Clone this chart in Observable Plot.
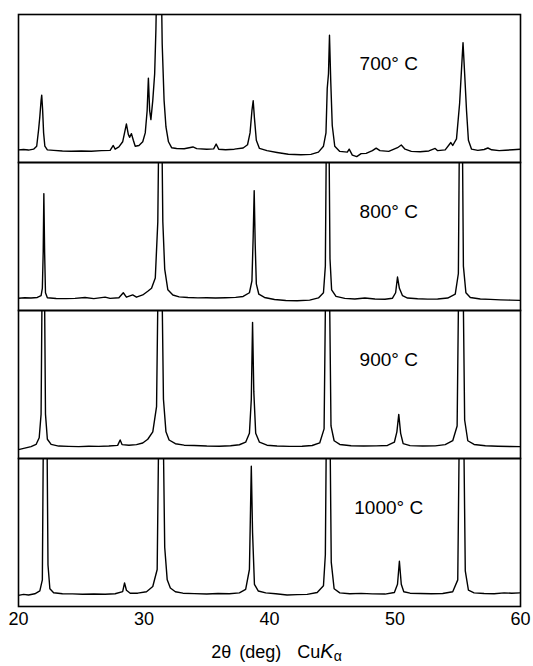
<!DOCTYPE html>
<html>
<head>
<meta charset="utf-8">
<script src="https://cdn.jsdelivr.net/npm/d3@7"></script>
<script src="https://cdn.jsdelivr.net/npm/@observablehq/plot@0.6"></script>
<style>
  html, body { margin: 0; padding: 0; background: #fff; }
  #chart { width: 533px; height: 638px; overflow: hidden; }
  #chart svg { display: block; }
  #xlabel { width: 533px; box-sizing: border-box; padding-left: 20px; text-align: center;
    font-family: "Liberation Sans", Arial, sans-serif; font-size: 18px; line-height: 22px; color: #000;
    margin-top: 2px; word-spacing: 3px; }
  #xlabel i { font-size: 20px; }
  #xlabel sub { font-size: 14px; vertical-align: -3px; line-height: 0; }
</style>
</head>
<body>
<div id="chart"></div>
<div id="xlabel">2θ (deg)&nbsp;&nbsp;Cu<i>K</i><sub>α</sub></div>
<script>
// Panel labels (top to bottom)
const temps = ["700", "800", "900", "1000"];
const tempLabels = ["700° C", "800° C", "900° C", "1000° C"];
// x ticks
const xTicks = [20, 30, 40, 50, 60];

// Read-off traces: [2θ (deg), intensity as % of panel height]; values > 100 run off the panel top
const trace700 = [
  [20.0, 8.5], [20.4, 8.8], [20.8, 8.4], [21.2, 9.0], [21.45, 11], [21.6, 22], [21.7, 31], [21.8, 42], [21.85, 45.5],
  [21.92, 36], [22.0, 20], [22.1, 11], [22.3, 8.5], [22.8, 8.2], [23.5, 7.8], [24.2, 7.6], [25.0, 7.8], [25.8, 7.6],
  [26.6, 8.0], [27.3, 8.2], [27.55, 11.5], [27.7, 9], [28.0, 10.5], [28.3, 14], [28.5, 22], [28.6, 26], [28.75, 19],
  [28.85, 17], [29.0, 19.5], [29.15, 15], [29.3, 11], [29.6, 11.5], [29.9, 14], [30.1, 20], [30.25, 35], [30.35, 57],
  [30.45, 35], [30.55, 29], [30.7, 42], [30.85, 60], [30.95, 90], [31.05, 140], [31.35, 140], [31.45, 80], [31.6, 42],
  [31.75, 24], [31.95, 14], [32.2, 10], [32.6, 9.5], [33.2, 9.3], [33.9, 10.5], [34.2, 9.4], [35.0, 9.0], [35.55, 9.2],
  [35.75, 12.5], [35.95, 9], [36.5, 8.6], [37.2, 9], [37.9, 9.8], [38.25, 12], [38.45, 20], [38.6, 35], [38.7, 41.7],
  [38.8, 30], [38.95, 15], [39.2, 9.5], [39.8, 8], [40.6, 6.8], [41.5, 5.6], [42.5, 5.2], [43.3, 5.5], [43.9, 7],
  [44.3, 11], [44.5, 20], [44.6, 50], [44.7, 60], [44.78, 86], [44.88, 55], [45.0, 25], [45.2, 11], [45.6, 7.5],
  [46.2, 7], [46.35, 9], [46.6, 5], [46.95, 4], [47.3, 6], [47.7, 6.2], [48.2, 8], [48.5, 9.7], [48.8, 8], [49.5, 7.5],
  [50.2, 10], [50.5, 11.8], [50.8, 9], [51.3, 7.5], [52.0, 7.3], [52.7, 7.8], [53.2, 9.5], [53.4, 8], [54.0, 8.5],
  [54.45, 13.5], [54.6, 11.5], [54.9, 16], [55.15, 40], [55.3, 63], [55.42, 81], [55.55, 60], [55.7, 35], [55.85, 15],
  [56.1, 9], [56.6, 8.2], [57.1, 8.8], [57.4, 9.8], [57.7, 8.6], [58.3, 8.0], [58.8, 8.3], [59.4, 8.6], [60.0, 9]
];
const trace800 = [
  [20.0, 8.3], [20.5, 8.6], [21.0, 8.4], [21.5, 8.8], [21.8, 10], [21.9, 15], [21.97, 40], [22.02, 79], [22.08, 40],
  [22.15, 12], [22.3, 8.6], [23.0, 8.1], [23.8, 8.0], [24.5, 8.2], [25.3, 8.8], [26.0, 8.0], [26.9, 9.0], [27.3, 8.2],
  [28.0, 8.6], [28.35, 12], [28.6, 9], [29.1, 10.5], [29.4, 9], [29.9, 10.5], [30.3, 13], [30.6, 15], [30.9, 22],
  [31.1, 60], [31.2, 140], [31.4, 140], [31.5, 60], [31.65, 28], [31.9, 14], [32.3, 10.5], [32.8, 9.2], [33.5, 8.8],
  [34.3, 8.5], [35.0, 8.6], [35.7, 8.4], [36.5, 8.6], [37.3, 8.9], [37.9, 9.5], [38.4, 12], [38.6, 20], [38.7, 50],
  [38.78, 81], [38.86, 45], [38.95, 18], [39.15, 11], [39.6, 8.8], [40.4, 7.4], [41.3, 6.8], [42.2, 6.6], [43.2, 7],
  [43.9, 8.5], [44.3, 12], [44.45, 30], [44.55, 140], [44.72, 140], [44.82, 35], [44.95, 14], [45.3, 9.5], [46.0, 8.2],
  [46.8, 7.8], [47.6, 8.4], [48.4, 7.8], [49.2, 7.6], [49.8, 8.3], [50.05, 12], [50.2, 22.6], [50.35, 15], [50.6, 10],
  [51.0, 8.4], [51.8, 7.9], [52.6, 7.7], [53.4, 7.8], [54.2, 8.4], [54.8, 11], [55.05, 25], [55.15, 140], [55.35, 140],
  [55.45, 30], [55.65, 12], [56.0, 8.8], [56.8, 7.8], [57.6, 7.5], [58.4, 7.2], [59.2, 7.0], [60.0, 6.8]
];
const trace900 = [
  [20.0, 6.0], [20.5, 7.0], [21.0, 8.0], [21.4, 9.5], [21.65, 14], [21.8, 30], [21.9, 140], [22.05, 140], [22.15, 30],
  [22.3, 13], [22.6, 9.5], [23.2, 8.4], [24.0, 8.2], [24.8, 8.0], [25.6, 8.3], [26.4, 8.2], [27.2, 8.4], [27.9, 8.9],
  [28.1, 12.5], [28.25, 9.4], [28.8, 9.0], [29.4, 9.4], [29.9, 10.5], [30.3, 13], [30.7, 18], [31.0, 35], [31.15, 140],
  [31.4, 140], [31.55, 40], [31.75, 18], [32.0, 12.5], [32.5, 10], [33.2, 9.0], [34.0, 8.8], [35.0, 8.4], [36.0, 8.3],
  [36.9, 8.6], [37.6, 9.3], [38.1, 11], [38.4, 17], [38.55, 40], [38.65, 92], [38.75, 45], [38.9, 17], [39.2, 11],
  [39.8, 9], [40.6, 8.4], [41.6, 8.2], [42.6, 8.3], [43.4, 8.8], [44.0, 10.5], [44.35, 20], [44.5, 140], [44.75, 140],
  [44.9, 22], [45.15, 12], [45.6, 9.5], [46.5, 8.6], [47.5, 8.4], [48.5, 8.5], [49.4, 8.8], [49.95, 11], [50.15, 18],
  [50.3, 29.8], [50.45, 17], [50.65, 10], [51.2, 8.7], [52.2, 8.4], [53.2, 8.5], [54.0, 9.4], [54.6, 12], [54.95, 22],
  [55.1, 140], [55.4, 140], [55.55, 26], [55.8, 12], [56.3, 9.5], [57.2, 8.6], [58.2, 8.3], [59.2, 8.1], [60.0, 8.0]
];
const trace1000 = [
  [20.0, 7.5], [20.4, 8.2], [20.8, 7.8], [21.3, 8.6], [21.7, 10.5], [21.9, 18], [22.0, 140], [22.25, 140], [22.35, 28],
  [22.5, 12], [22.8, 9.3], [23.5, 8.6], [24.3, 8.5], [25.1, 8.3], [26.0, 8.4], [26.9, 8.3], [27.7, 8.6], [28.3, 10],
  [28.45, 15.9], [28.6, 11], [28.9, 9], [29.5, 9], [30.2, 10], [30.7, 13.5], [31.05, 25], [31.2, 140], [31.5, 140],
  [31.65, 40], [31.85, 18], [32.1, 12.5], [32.5, 10], [33.1, 9], [34.0, 8.7], [35.0, 8.4], [35.9, 8.8], [36.8, 8.6],
  [37.6, 9.2], [38.1, 11.5], [38.4, 25], [38.55, 94.8], [38.65, 50], [38.8, 15], [39.1, 10.5], [39.7, 9.2], [40.5, 8.6],
  [41.4, 7.8], [42.2, 8.0], [43.0, 8.2], [43.8, 9.5], [44.3, 14], [44.45, 35], [44.55, 140], [44.8, 140], [44.92, 30],
  [45.15, 12], [45.6, 9.2], [46.4, 8.6], [47.3, 8.9], [48.2, 8.5], [49.2, 8.4], [49.95, 9.5], [50.2, 15], [50.35, 30.6],
  [50.5, 15], [50.7, 10], [51.2, 9], [52.0, 8.8], [52.9, 8.6], [53.8, 8.8], [54.6, 10], [55.0, 18], [55.15, 140],
  [55.45, 140], [55.6, 24], [55.85, 11], [56.3, 9.2], [57.1, 8.8], [57.9, 8.6], [58.7, 9.2], [59.3, 9.0], [60.0, 9.2]
];

const traces = [trace700, trace800, trace900, trace1000];
const rows = traces.flatMap((tr, i) => tr.map(([t, v]) => ({temp: temps[i], theta: t, I: v})));
const labelRows = temps.map((t, i) => ({temp: t, text: tempLabels[i], theta: 49.5, I: 66.5}));

const chart = Plot.plot({
  width: 533,
  height: 638,
  marginTop: 13,
  marginBottom: 31,
  marginLeft: 18,
  marginRight: 13,
  style: {fontFamily: "'Liberation Sans', Arial, sans-serif", fontSize: "18px", color: "#000", background: "#fff"},
  x: {domain: [20, 60], ticks: xTicks, tickSize: 0, tickPadding: 6, label: null},
  y: {domain: [0, 100], axis: null},
  fy: {domain: temps, axis: null, padding: 0},
  marks: [
    Plot.lineY(rows, {x: "theta", y: "I", fy: "temp", stroke: "#000", strokeWidth: 1.4, clip: true, curve: "linear"}),
    Plot.text(labelRows, {x: "theta", y: "I", fy: "temp", text: "text", fontSize: 19, fill: "#000", textAnchor: "middle"}),
    Plot.frame({stroke: "#000", strokeWidth: 1.6})
  ]
});
document.getElementById("chart").appendChild(chart);
</script>
</body>
</html>
